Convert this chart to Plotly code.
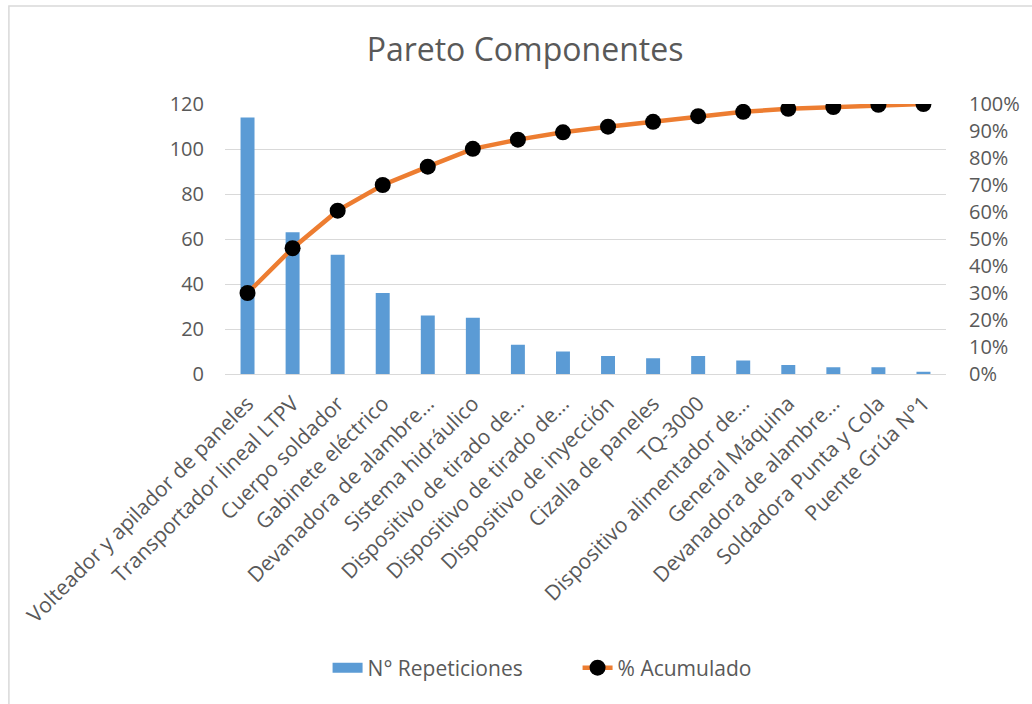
import plotly.graph_objects as go

componentes = [
    "Volteador y apilador de paneles",
    "Transportador lineal LTPV",
    "Cuerpo soldador",
    "Gabinete eléctrico",
    "Devanadora de alambre…",
    "Sistema hidráulico",
    "Dispositivo de tirado de…",
    "Dispositivo de tirado de…",
    "Dispositivo de inyección",
    "Cizalla de paneles",
    "TQ-3000",
    "Dispositivo alimentador de…",
    "General Máquina",
    "Devanadora de alambre…",
    "Soldadora Punta y Cola",
    "Puente Grúa N°1",
]
repeticiones = [114, 63, 53, 36, 26, 25, 13, 10, 8, 7, 8, 6, 4, 3, 3, 1]
acumulado_pct = [30.0, 46.6, 60.5, 70.0, 76.8, 83.4, 86.8, 89.5,
                 91.6, 93.4, 95.5, 97.1, 98.2, 98.9, 99.7, 100.0]

# Several labels share the same truncated text, so positions are indexed
x_idx = list(range(len(componentes)))

W, H = 1032, 704
ML, MR, MT, MB = 225, 83, 104, 330
TXT = "#595959"
FONT = "Open Sans"
BLUE = "#5b9bd5"
ORANGE = "#ed7d31"

fig = go.Figure()
fig.add_trace(go.Bar(
    x=x_idx, y=repeticiones, name="N° Repeticiones",
    marker=dict(color=BLUE, line=dict(width=0)),
    width=0.31, yaxis="y", showlegend=False, legendgroup="rep",
))
# legend entry for the bars drawn as a wide colour block
fig.add_trace(go.Scatter(
    x=[None], y=[None], mode="lines", name="N° Repeticiones",
    line=dict(color=BLUE, width=11), legendgroup="rep", hoverinfo="skip",
))
fig.add_trace(go.Scatter(
    x=x_idx, y=acumulado_pct, name="% Acumulado", mode="lines+markers",
    line=dict(color=ORANGE, width=4.5),
    marker=dict(color="black", size=16),
    yaxis="y2",
))

pw = W - ML - MR
ph = H - MT - MB
fig.add_shape(
    type="rect", xref="paper", yref="paper",
    x0=(8 - ML) / pw, x1=(W + 20 - ML) / pw,
    y0=-(H + 20 - MT - ph) / ph, y1=(ph + MT - 6) / ph,
    line=dict(color="#d9d9d9", width=1.5), layer="below",
)

fig.update_layout(
    width=W, height=H,
    margin=dict(l=ML, r=MR, t=MT, b=MB),
    paper_bgcolor="white", plot_bgcolor="white",
    font=dict(family=FONT, size=20, color=TXT),
    title=dict(text="Pareto Componentes", x=525 / W, xref="container", xanchor="center",
               y=1 - 50 / H, yref="container", yanchor="middle",
               font=dict(family=FONT, size=32, color=TXT)),
    bargap=0.69,
    showlegend=True,
    legend=dict(orientation="h", x=(328 - ML) / pw, xanchor="left",
                y=-(668 - MT - ph) / ph, yanchor="middle",
                entrywidth=205, entrywidthmode="pixels",
                font=dict(size=21, color=TXT), tracegroupgap=0),
    xaxis=dict(
        tickmode="array", tickvals=x_idx, ticktext=componentes,
        tickangle=-45, range=[-0.5, len(componentes) - 0.5],
        showgrid=False, showline=True, linecolor="#d9d9d9", linewidth=1,
        ticks="", tickfont=dict(size=21, color=TXT), ticklabelstandoff=8,
    ),
    yaxis=dict(
        range=[0, 120], dtick=20, showgrid=True, gridcolor="#d9d9d9", gridwidth=1,
        zeroline=False, showline=False, ticks="", tickfont=dict(size=20, color=TXT),
        ticklabelstandoff=20,
    ),
    yaxis2=dict(
        range=[0, 100], dtick=10, overlaying="y", side="right",
        showgrid=False, zeroline=False, showline=False, ticks="",
        ticksuffix="%", tickfont=dict(size=20, color=TXT), ticklabelstandoff=22,
    ),
)

fig.write_html("out.html")
